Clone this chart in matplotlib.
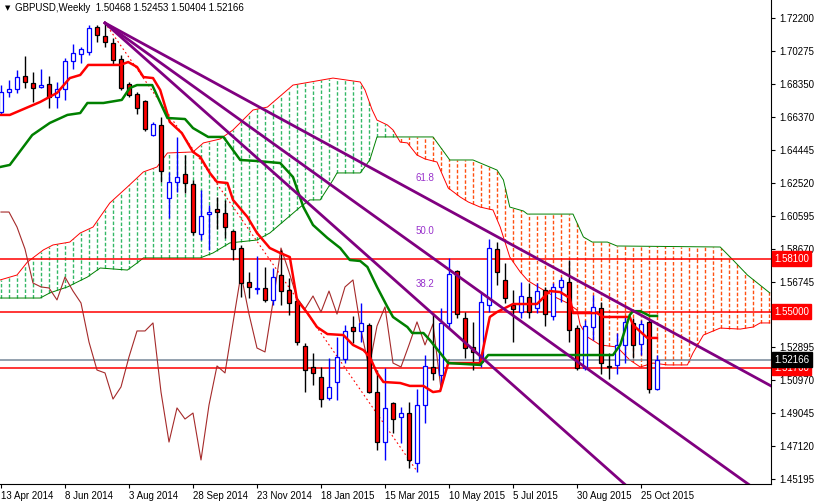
import numpy as np
import matplotlib
matplotlib.use("Agg")
import matplotlib.pyplot as plt
from matplotlib.patches import Rectangle
import matplotlib.transforms as mtransforms

# ---- weekly candles (open, high, low, close), first week 13 Apr 2014 ----
opens = [1.6669,1.6786,1.6804,1.6880,1.6839,1.6816,1.6833,1.6757,1.6804,1.6968,1.7009,1.7021,1.7167,1.7115,1.7074,1.6980,1.6833,1.6775,1.6734,1.6534,
         1.6593,1.6165,1.6259,1.6306,1.6247,1.5954,1.6072,1.6101,1.6077,1.5972,1.5872,1.5673,1.5632,1.5638,1.5568,1.5714,1.5626,1.5562,1.5298,1.5175,
         1.5116,1.4993,1.5087,1.5222,1.5409,1.5386,1.5421,1.5028,1.4735,1.4964,1.4882,1.4905,1.4612,1.4952,1.5175,1.5128,1.5433,1.5737,1.5462,1.5292,
         1.5204,1.5538,1.5866,1.5685,1.5538,1.5497,1.5585,1.5521,1.5626,1.5474,1.5644,1.5673,1.5403,1.5169,1.5409,1.5521,1.5181,1.5187,1.5304,1.5433,
         1.5310,1.5439,1.50468]
highs = [1.6827,1.6857,1.6915,1.6997,1.6904,1.6921,1.6880,1.6845,1.6986,1.7068,1.7050,1.7179,1.7179,1.7191,1.7103,1.7003,1.6845,1.6786,1.6740,1.6611,
         1.6640,1.6318,1.6523,1.6417,1.6271,1.6212,1.6124,1.6171,1.6154,1.5978,1.5890,1.5732,1.5825,1.5761,1.5755,1.5861,1.5696,1.5579,1.5316,1.5257,
         1.5175,1.5228,1.5351,1.5421,1.5474,1.5550,1.5433,1.5157,1.5169,1.4970,1.4940,1.4970,1.5046,1.5245,1.5491,1.5521,1.5814,1.5743,1.5497,1.5439,
         1.5609,1.5925,1.5907,1.5784,1.5626,1.5673,1.5667,1.5667,1.5644,1.5667,1.5702,1.5802,1.5421,1.5450,1.5597,1.5556,1.5257,1.5374,1.5468,1.5462,
         1.5450,1.5456,1.52453]
lows = [1.6652,1.6757,1.6781,1.6810,1.6728,1.6810,1.6693,1.6693,1.6740,1.6921,1.6956,1.7003,1.7079,1.7050,1.6945,1.6798,1.6757,1.6658,1.6558,1.6529,
        1.6259,1.6048,1.6200,1.6195,1.5948,1.5919,1.5861,1.5984,1.5931,1.5802,1.5585,1.5579,1.5603,1.5556,1.5538,1.5538,1.5480,1.5304,1.5028,1.5069,
        1.4940,1.4982,1.4982,1.5198,1.5316,1.5321,1.5023,1.4689,1.4630,1.4788,1.4730,1.4583,1.4560,1.4847,1.5099,1.5069,1.5403,1.5462,1.5228,1.5157,
        1.5175,1.5497,1.5655,1.5550,1.5321,1.5462,1.5462,1.5491,1.5415,1.5450,1.5556,1.5321,1.5157,1.5157,1.5333,1.5134,1.5105,1.5134,1.5198,1.5228,
        1.5245,1.5023,1.50404]
closes = [1.6786,1.6804,1.6874,1.6845,1.6810,1.6827,1.6757,1.6804,1.6968,1.7015,1.7038,1.7161,1.7120,1.7079,1.6974,1.6810,1.6769,1.6693,1.6570,1.6599,
          1.6323,1.6259,1.6288,1.6253,1.5966,1.6060,1.6083,1.6083,1.5995,1.5866,1.5667,1.5644,1.5638,1.5568,1.5702,1.5620,1.5550,1.5321,1.5157,1.5140,
          1.4987,1.5058,1.5234,1.5386,1.5386,1.5433,1.5028,1.4735,1.4935,1.4870,1.4905,1.4630,1.4952,1.5181,1.5140,1.5433,1.5720,1.5485,1.5286,1.5263,
          1.5556,1.5872,1.5732,1.5579,1.5515,1.5591,1.5497,1.5620,1.5485,1.5644,1.5685,1.5392,1.5169,1.5415,1.5527,1.5198,1.5175,1.5304,1.5439,1.5304,
          1.5427,1.5046,1.52166]

# ---- Ichimoku lines (bar index, price) ----
tenkan_x = [-0.1,1.1,4.9,7.0,8.6,9.9,10.9,14.9,15.9,17.0,17.8,19.0,19.9,21.1,22.6,24.0,24.9,26.1,27.0,28.3,29.0,30.8,32.0,33.6,34.9,36.1,37.0,38.3,39.5,40.8,
            42.8,44.0,45.3,46.1,47.0,47.8,49.9,51.1,52.8,54.0,54.9,55.9,59.9,61.1,62.0,64.0,67.0,68.6,69.9,71.1,71.5,74.5,75.3,78.6,79.0,80.8,82.0]
tenkan_y = [1.6652,1.6652,1.6728,1.6781,1.6868,1.6886,1.6945,1.6945,1.6962,1.6933,1.6874,1.6868,1.6798,1.6611,1.6546,1.6435,1.6406,1.6312,1.6259,1.6253,
            1.6154,1.6054,1.5960,1.5872,1.5843,1.5819,1.5568,1.5491,1.5409,1.5368,1.5362,1.5304,1.5274,1.5234,1.5140,1.5087,1.5081,1.5064,1.5064,1.5028,
            1.5034,1.5198,1.5198,1.5468,1.5497,1.5544,1.5544,1.5620,1.5614,1.5579,1.5491,1.5491,1.5468,1.5468,1.5421,1.5345,1.5345]
kijun_x = [-0.1,1.1,3.9,6.1,8.3,9.9,10.8,12.8,15.1,16.1,17.0,18.9,20.8,23.0,24.0,25.9,27.8,29.9,32.0,34.9,36.5,37.8,39.0,40.8,42.4,43.6,44.9,45.8,47.0,48.3,
           49.0,50.8,51.4,52.8,53.6,54.9,55.9,59.9,60.9,76.5,77.4,78.6,79.0,79.9,81.1,82.0]
kijun_y = [1.6347,1.6359,1.6534,1.6605,1.6652,1.6663,1.6722,1.6722,1.6740,1.6810,1.6827,1.6827,1.6634,1.6628,1.6575,1.6523,1.6523,1.6388,1.6382,1.6370,
           1.6288,1.6112,1.6007,1.5931,1.5872,1.5802,1.5796,1.5761,1.5644,1.5527,1.5468,1.5409,1.5374,1.5374,1.5333,1.5257,1.5198,1.5187,1.5245,1.5245,
           1.5304,1.5480,1.5502,1.5502,1.5474,1.5474]
spanA_x = [-0.1,2,3.3,5.3,6.5,8.6,9.9,11.5,13.6,15.8,17.8,19.5,20.8,24,25.3,27.4,29,31.5,33.3,36.5,41.5,44.9,45.5,46.4,47,48.3,49,49.9,50.8,52,
           53,54.5,55.3,55.9,57.4,58.4,59.9,61.5,62.4,63.6,64.9,65.9,67.8,69.5,70.8,72,72.4,73.3,74.9,77,78.6,79.9,81.5,83.3,85.8,86.5,87.8,89.9,92.4,94,
           94.9,96.1]
spanA_y = [1.5685,1.5714,1.5790,1.5861,1.5890,1.5907,1.5960,1.5995,1.6136,1.6230,1.6318,1.6347,1.6429,1.6435,1.6488,1.6511,1.6564,1.6681,1.6698,1.6827,
           1.6868,1.6845,1.6798,1.6681,1.6622,1.6593,1.6564,1.6493,1.6488,1.6417,1.6394,1.6376,1.6288,1.6224,1.6171,1.6142,1.6112,1.6095,1.5995,1.5819,
           1.5732,1.5679,1.5626,1.5579,1.5550,1.5509,1.5421,1.5351,1.5304,1.5292,1.5216,1.5175,1.5198,1.5187,1.5187,1.5257,1.5362,1.5403,1.5397,1.5409,
           1.5433,1.5433]
spanB_x = [-0.1,4.9,6.1,8.3,10.8,12.4,15.8,17,17.8,24.9,26.5,28.6,32,33.6,37.4,38.6,39.9,41.5,42,44.9,46.1,47,54,56.1,59,62,62.8,63.6,65.3,65.8,
           71.5,72.8,73.9,75.8,77,89.9,91.5,93.3,96.1]
spanB_y = [1.5579,1.5579,1.5609,1.5644,1.5702,1.5755,1.5743,1.5784,1.5814,1.5814,1.5843,1.5902,1.5919,1.5960,1.6112,1.6154,1.6154,1.6271,1.6312,1.6312,
           1.6388,1.6523,1.6523,1.6388,1.6388,1.6329,1.6271,1.6112,1.6089,1.6071,1.6071,1.5937,1.5907,1.5907,1.5884,1.5878,1.5802,1.5714,1.5609]
chikou_shift = 26

# ---- Fibonacci fan (anchor at the top, end prices at right edge) ----
fan_anchor = (13, 1.7191)
fan_end_x = 96.25
fan_end_y = [1.5064, 1.4393, 1.3727]
fan_labels = ["61.8", "50.0", "38.2"]
trend_end = (51.9, 1.4571)

hlines_red = [1.58100, 1.55000, 1.51700]
last_price = 1.52166
ytick_vals = [1.72200,1.70275,1.68350,1.66370,1.64445,1.62520,1.60595,1.58670,1.56745,1.52895,1.50970,1.49045,1.47120,1.45195]
date_idx = [0,8,16,24,32,40,48,56,64,72,80]
date_labels = ["13 Apr 2014","8 Jun 2014","3 Aug 2014","28 Sep 2014","23 Nov 2014","18 Jan 2015",
               "15 Mar 2015","10 May 2015","5 Jul 2015","30 Aug 2015","25 Oct 2015"]

NARROW = ['Liberation Sans Narrow', 'Liberation Sans', 'DejaVu Sans']
plt.rcParams['font.family'] = ['Liberation Sans', 'DejaVu Sans']

W, H = 814, 501
fig = plt.figure(figsize=(W/100, H/100), dpi=100)
ax = fig.add_axes([0, 17/H, 771/W, 484/H])
ax.set_xlim(-0.125, 96.25)
ax.set_ylim(1.44892, 1.73255)

# cloud hatching
ii = np.arange(0, 97)
A = np.interp(ii, spanA_x, spanA_y)
B = np.interp(ii, spanB_x, spanB_y)
for i, a, b in zip(ii, A, B):
    col = '#33B866' if a >= b else '#FF5010'
    ax.vlines(i, min(a, b), max(a, b), colors=col, linewidth=1.0, linestyles=(0, (2.5, 1.5)), zorder=1)
ax.plot(spanA_x, spanA_y, color='red', lw=0.7, zorder=2)
ax.plot(spanB_x, spanB_y, color='green', lw=0.7, zorder=2)

for p in hlines_red:
    ax.axhline(p, color='red', lw=1.1, zorder=2)
ax.axhline(last_price, color='#778899', lw=1.1, zorder=2)

# chikou
n = len(closes)
ax.plot(np.arange(n - chikou_shift), closes[chikou_shift:], color='#A52A2A', lw=0.8, zorder=3)

# red dotted trend line
ax.plot([fan_anchor[0], trend_end[0]], [fan_anchor[1], trend_end[1]], color='red', lw=0.8, ls=(0, (1.5, 2.5)), zorder=3)

# candles
bw = 0.6
for i, (o, h, l, c) in enumerate(zip(opens, highs, lows, closes)):
    bull = c >= o
    wc = 'blue' if bull else 'black'
    ax.vlines(i, l, h, colors=wc, lw=1.0, zorder=4)
    ax.add_patch(Rectangle((i - bw/2, min(o, c)), bw, max(abs(c - o), 0.0002),
                           facecolor='white' if bull else 'red', edgecolor=wc, lw=0.9, zorder=5))

ax.plot(tenkan_x, tenkan_y, color='red', lw=1.8, zorder=6)
ax.plot(kijun_x, kijun_y, color='green', lw=1.8, zorder=6)

# fan
for ey, lab in zip(fan_end_y, fan_labels):
    ax.plot([fan_anchor[0], fan_end_x], [fan_anchor[1], ey], color='#800080', lw=2, zorder=7)
    lx = 51.8
    ly = fan_anchor[1] + (ey - fan_anchor[1]) * (lx - fan_anchor[0]) / (fan_end_x - fan_anchor[0])
    ax.annotate(lab, (lx, ly), xytext=(0, 8), textcoords='offset points', color='#9932CC', fontsize=7, zorder=8)

# axes styling
for s in ['top', 'left']:
    ax.spines[s].set_visible(False)
ax.yaxis.tick_right()
ax.set_yticks(ytick_vals)
ax.set_yticklabels([f"{v:.5f}" for v in ytick_vals], fontsize=7, family=NARROW)
ax.tick_params(axis='y', length=3, pad=3)
ax.set_xticks(date_idx)
ax.set_xticklabels(date_labels, fontsize=7, ha='left')
ax.tick_params(axis='x', length=3, pad=2)

tr = mtransforms.blended_transform_factory(ax.transAxes, ax.transData)
for p in hlines_red:
    ax.text(1.004, p, f"{p:.5f}", transform=tr, fontsize=7, family=NARROW, color='white', va='center', ha='left',
            bbox=dict(boxstyle='square,pad=0.25', fc='red', ec='red'), zorder=10, clip_on=False)
ax.text(1.004, last_price, f"{last_price:.5f}", transform=tr, fontsize=7, family=NARROW, color='white', va='center', ha='left',
        bbox=dict(boxstyle='square,pad=0.25', fc='black', ec='black'), zorder=11, clip_on=False)

fig.text(5/W, 1 - 8/H, "▼", fontsize=5, va='center', family=['DejaVu Sans'])
fig.text(15/W, 1 - 8/H, "GBPUSD,Weekly  %.5f %.5f %.5f %.5f" % (opens[-1], highs[-1], lows[-1], closes[-1]),
         fontsize=7, va='center')

fig.savefig("out.png", dpi=100)
